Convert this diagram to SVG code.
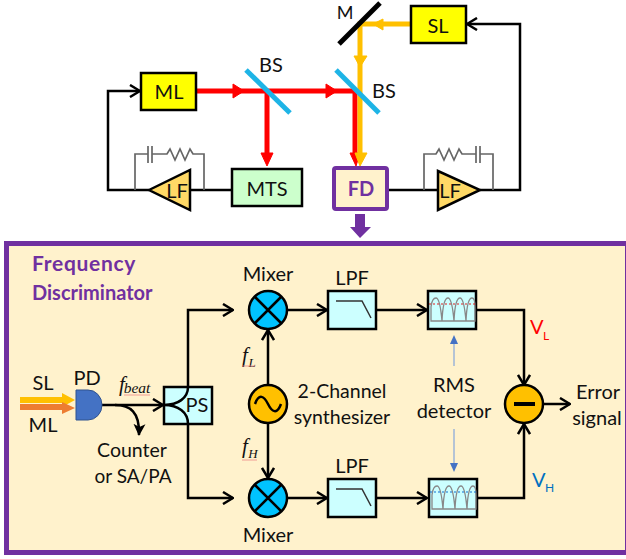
<svg xmlns="http://www.w3.org/2000/svg" width="626" height="559" viewBox="0 0 626 559">
<style>
text{font-family:Lato,"Open Sans",sans-serif;font-size:20px;fill:#111;text-anchor:middle}
.b{stroke:#000;stroke-width:2.5;fill:none}
.g{stroke:#666;stroke-width:1.7;fill:none}
.box{stroke:#000;stroke-width:2.5}
.lt{fill:#ccffff;stroke:#000;stroke-width:2.5}
.r{stroke:#f00;stroke-width:5;fill:none}
.o{stroke:#ffc000;stroke-width:5;fill:none}
.bs{stroke:#1eb4e6;stroke-width:5}
.tri{fill:#ffd966;stroke:#000;stroke-width:2.5}
.wave{stroke:#888;stroke-width:1.3;fill:none}
.i{font-family:"Liberation Serif",serif;font-style:italic}
.sq{stroke:#e88;stroke-width:.8;fill:none}
.t{fill:#7030a0;font-weight:700;font-size:20px;text-anchor:start}
</style>
<defs>
<marker id="open" viewBox="0 0 12 14" refX="11" refY="7" markerWidth="12" markerHeight="14" markerUnits="userSpaceOnUse" orient="auto"><path d="M1 1L11 7L1 13" fill="none" stroke="#000" stroke-width="2.5"/></marker>
<marker id="solid" viewBox="0 0 12 14" refX="11" refY="7" markerWidth="12" markerHeight="14" markerUnits="userSpaceOnUse" orient="auto"><path d="M0 1L12 7L0 13L3 7Z" fill="#000"/></marker>
<g id="wf"><path class="wave" d="M3 26V12Q4 3 8 3Q12 3 14 26Q15 3 20 3Q24 3 26 26Q27 3 32 3Q36 3 38 26Q39 3 44 3Q47 3 47 12V26H3Z"/></g>
</defs>

<rect id="fd-panel" x="6.500" y="243.500" width="621" height="309" fill="#fff2cc" stroke="#7030a0" stroke-width="5"/>

<g id="connectors">
<path class="b" d="M232 190H191"/>
<path class="b" d="M149 190H108V91H140" marker-end="url(#open)"/>
<path class="g" d="M135 190V154H148M152 154H167L170 149L175 160L180 149L185 160L190 149L193 154H204V190"/>
<path class="g" d="M148 146V163M152 146V163"/>
<path class="b" d="M388 190H438"/>
<path class="b" d="M480 190H520V24H467" marker-end="url(#open)"/>
<path class="g" d="M424 190V154H436L439 149L444 160L449 149L454 160L459 149L462 154H476M480 154H493V190"/>
<path class="g" d="M476 146V163M480 146V163"/>
<path class="r" d="M196 91H356"/>
<path d="M233 84L244 91L233 98Z M326 84L337 91L326 98Z" fill="#f00" stroke="#f00"/>
<path class="r" d="M267 91V158"/><path d="M261 153H273L267 166Z" fill="#f00" stroke="#f00"/>
<path class="r" d="M355 91V158"/><path d="M350 153H360L356 166Z" fill="#f00" stroke="#f00"/>
<path class="o" d="M411 24H360V160"/>
<path d="M383 19L373 24L383 30Z M354 56H367L360 67Z M355 153H367L360 166Z" fill="#ffc000" stroke="#ffc000"/>
<path d="M355 214H365V227H371L360 238L350 227H355Z" fill="#7030a0"/>

<path d="M20 397H62V393L75 400L62 407V403H20Z" fill="#ffc000"/>
<path d="M20 404H62V402L75 408L62 414V410H20Z" fill="#ed7d31"/>
<path class="b" d="M102 405H163" marker-end="url(#open)"/>
<path class="b" d="M115 405C130 405 140 412 139 435" marker-end="url(#solid)"/>
<path class="b" d="M188 387V310H233" marker-end="url(#open)"/>
<path class="b" d="M188 424V498H233" marker-end="url(#open)"/>
<path class="b" d="M268 386V330" marker-end="url(#open)"/>
<path class="b" d="M268 424V478" marker-end="url(#open)"/>
<path class="b" d="M287 310H327" marker-end="url(#open)"/>
<path class="b" d="M287 498H327" marker-end="url(#open)"/>
<path class="b" d="M376 310H427" marker-end="url(#open)"/>
<path class="b" d="M376 498H427" marker-end="url(#open)"/>
<path class="b" d="M477 310H524V385" marker-end="url(#open)"/>
<path class="b" d="M477 498H524V424" marker-end="url(#open)"/>
<path class="b" d="M543 404H570" marker-end="url(#open)"/>
<path d="M454 366V344" stroke="#9db4d8" stroke-width="1.500"/><path d="M450 344L454 335L458 344Z" fill="#4472c4"/>
<path d="M454 429V463" stroke="#9db4d8" stroke-width="1.500"/><path d="M450 463L454 472L458 463Z" fill="#4472c4"/>
</g>

<g id="bs1"><line class="bs" x1="246" y1="70" x2="290" y2="113"/><text x="271" y="72">BS</text></g>
<g id="bs2"><line class="bs" x1="336" y1="70" x2="379" y2="113"/><text x="384" y="98">BS</text></g>
<g id="mirror"><line x1="339" y1="44" x2="380" y2="3" stroke="#000" stroke-width="5"/><text x="345" y="19" style="font-size:18px">M</text></g>
<g id="ml"><rect class="box" x="141" y="73" width="55" height="37" fill="#ff0" /><text x="169" y="99">ML</text></g>
<g id="sl"><rect class="box" x="411" y="6" width="55" height="37" fill="#ff0"/><text x="438" y="33">SL</text></g>
<g id="mts"><rect class="box" x="232" y="169" width="70" height="37" fill="#ccffcc"/><text x="267" y="196">MTS</text></g>
<g id="fd"><rect x="334" y="168" width="53" height="41" rx="2" fill="#fff2cc" stroke="#7030a0" stroke-width="4"/><text x="361" y="196" style="fill:#7030a0;font-weight:700">FD</text></g>
<g id="lf1"><path class="tri" d="M149 190L190 170V210Z"/><text x="177" y="198">LF</text></g>
<g id="lf2"><path class="tri" d="M438 171V210L480 190Z"/><text x="450" y="198">LF</text></g>

<g id="title"><text class="t" x="32" y="271" style="font-size:21px;letter-spacing:.7px">Frequency</text><text class="t" x="32" y="300">Discriminator</text></g>
<g id="pd"><path d="M76 390H88A14 15 0 0 1 88 420H76Z" fill="#4472c4" stroke="#2f528f"/><text x="87" y="385">PD</text></g>
<text x="43" y="390">SL</text>
<text x="43" y="432">ML</text>
<g id="fbeat"><text class="i" x="122" y="391" style="font-size:21px">f</text><text class="i" x="137" y="393" style="font-size:15.500px">beat</text><path class="sq" d="M124 395H150"/></g>
<text x="132" y="457" style="font-size:19.500px">Counter</text>
<text x="133" y="483" style="font-size:19px">or SA/PA</text>
<g id="ps"><rect class="lt" x="164" y="387" width="48" height="37"/><path class="b" d="M164 405C178 405 188 398 188 387M164 405C178 405 188 412 188 424"/><text x="197" y="412">PS</text></g>
<g id="mixer1"><circle cx="268" cy="310" r="19" fill="#00c3ff" stroke="#000" stroke-width="2.500"/><path class="b" d="M255 297L281 323M281 297L255 323"/><text x="268" y="281">Mixer</text></g>
<g id="mixer2"><circle cx="268" cy="498" r="19" fill="#00c3ff" stroke="#000" stroke-width="2.500"/><path class="b" d="M255 485L281 511M281 485L255 511"/><text x="268" y="542">Mixer</text></g>
<g id="osc"><circle cx="268" cy="404" r="19" fill="#ffc000" stroke="#000" stroke-width="2.500"/><path d="M255 404C259 393 264 396 268 404C272 412 277 415 281 404" fill="none" stroke="#000" stroke-width="2.500"/></g>
<g id="fl"><text class="i" x="245" y="362" style="font-size:21px">f</text><text class="i" x="252" y="367" style="font-size:13px">L</text><path class="sq" d="M242 366H255"/></g>
<g id="fh"><text class="i" x="245" y="453" style="font-size:21px">f</text><text class="i" x="253" y="458" style="font-size:13px">H</text><path class="sq" d="M242 460H257"/></g>
<text x="342" y="398" style="font-size:19.500px">2-Channel</text>
<text x="342" y="424" style="font-size:19.500px">synthesizer</text>
<g id="lpf1"><rect class="lt" x="328" y="291" width="48" height="38"/><path d="M336 301H362L371 318" fill="none" stroke="#333" stroke-width="1.500"/><text x="352" y="285">LPF</text></g>
<g id="lpf2"><rect class="lt" x="328" y="479" width="48" height="38"/><path d="M336 489H362L371 506" fill="none" stroke="#333" stroke-width="1.500"/><text x="352" y="473">LPF</text></g>
<g id="rms1"><rect class="lt" x="428" y="291" width="48" height="38"/><use href="#wf" x="428" y="295"/><path d="M429 304H475" stroke="#e02020" stroke-width="1.200" stroke-dasharray="2 2"/></g>
<g id="rms2"><rect class="lt" x="429" y="479" width="48" height="38"/><use href="#wf" x="429" y="483"/><path d="M430 492H476" stroke="#1070d0" stroke-width="1.200" stroke-dasharray="2 2"/></g>
<text x="454" y="392">RMS</text>
<text x="454" y="418">detector</text>
<g id="sub"><circle cx="524" cy="404" r="19" fill="#ffc000" stroke="#000" stroke-width="2.500"/><line x1="514" y1="404" x2="535" y2="404" stroke="#000" stroke-width="4"/></g>
<text x="598" y="399">Error</text>
<text x="597" y="425">signal</text>
<g id="vl"><text x="530" y="334" style="fill:#f00;text-anchor:start">V</text><text x="543" y="340" style="fill:#f00;font-size:12px;text-anchor:start">L</text></g>
<g id="vh"><text x="532" y="487" style="fill:#0070c0;text-anchor:start">V</text><text x="545" y="492" style="fill:#0070c0;font-size:12px;text-anchor:start">H</text></g>
</svg>
